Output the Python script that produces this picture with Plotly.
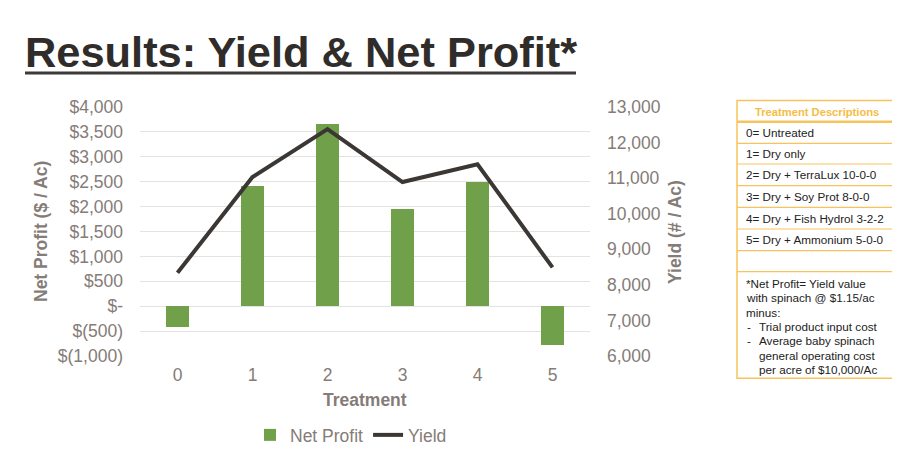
import plotly.graph_objects as go

# data
treatments = ["0", "1", "2", "3", "4", "5"]
net_profit = [-420, 2420, 3650, 1950, 2490, -770]
yield_ac = [8340, 11030, 12380, 10890, 11390, 8490]

profit_ticks = [4000, 3500, 3000, 2500, 2000, 1500, 1000, 500, 0, -500, -1000]
profit_labels = ["$4,000", "$3,500", "$3,000", "$2,500", "$2,000", "$1,500",
                 "$1,000", "$500", "$-", "$(500)", "$(1,000)"]

desc_header = "Treatment Descriptions"
desc_rows = ["0= Untreated", "1= Dry only", "2= Dry + TerraLux 10-0-0",
             "3= Dry + Soy Prot 8-0-0", "4= Dry + Fish Hydrol 3-2-2",
             "5= Dry + Ammonium 5-0-0"]
note_lines = ["*Net Profit= Yield value", "with spinach @ $1.15/ac", "minus:"]
note_bullets = [["Trial product input cost"],
                ["Average baby spinach", "general operating cost",
                 "per acre of $10,000/Ac"]]

GREEN = "#70a04a"
DARK = "#3b3734"
GREY = "#857c77"
GOLD = "#f7c35c"
FONT = "Liberation Sans, Arial, sans-serif"

# the page body adds an 8px margin, so the figure is drawn 8px in
OFF = 8
W, H = 900 - OFF, 454 - OFF
# plot area in window pixels
L, R, T, B = 140, 590, 107, 356


def px(x):
    return (x - L) / (R - L)


def py(y):
    return (B - y) / (B - T)


def note(text, x, y, size=11.7, color="#222222", anchor="left", bold=False, angle=0):
    if bold:
        text = "<b>" + text + "</b>"
    return dict(text=text, x=px(x), y=py(y), xref="paper", yref="paper",
                xanchor=anchor, yanchor="middle", showarrow=False, textangle=angle,
                font=dict(family=FONT, size=size, color=color))


fig = go.Figure()
fig.add_trace(go.Bar(x=treatments, y=net_profit, name="Net Profit",
                     marker=dict(color=GREEN, line=dict(width=0)),
                     width=0.31, yaxis="y"))
fig.add_trace(go.Scatter(x=treatments, y=yield_ac, name="Yield", mode="lines",
                         line=dict(color=DARK, width=4), yaxis="y2"))

shapes = []
annotations = []

# title + underline
annotations.append(note("Results: Yield &amp; Net Profit*", 23, 52, size=43.4,
                        color="#302c2a", bold=True))
shapes.append(dict(type="line", xref="paper", yref="paper", x0=px(25), x1=px(576),
                   y0=py(73), y1=py(73), line=dict(color="#3d3a38", width=3)))

# axis titles
annotations.append(note("Net Profit ($ / Ac)", 41, 232, size=17.5, color=GREY,
                        anchor="center", bold=True, angle=-90))
annotations.append(note("Yield (# / Ac)", 675, 232, size=17.5, color=GREY,
                        anchor="center", bold=True, angle=-90))
annotations.append(note("Treatment", 365, 400, size=17.5, color=GREY,
                        anchor="center", bold=True))

# description table
bx0, bx1 = 737, 896.5
row_lines = [100.5, 121.7, 143.3, 164, 185.7, 207.3, 229, 250.7, 271.7, 378.3]
shapes.append(dict(type="rect", xref="paper", yref="paper", x0=px(bx0), x1=px(bx1),
                   y0=py(378.3), y1=py(100.5), line=dict(color=GOLD, width=1.5)))
for i, ly in enumerate(row_lines[1:-1]):
    shapes.append(dict(type="line", xref="paper", yref="paper", x0=px(bx0), x1=px(bx1),
                       y0=py(ly), y1=py(ly),
                       line=dict(color=GOLD, width=2.5 if i == 0 else 1.2)))
annotations.append(note(desc_header, 817, 111.5, size=11.2, color="#f5bd45",
                        anchor="center", bold=True))
for i, row in enumerate(desc_rows):
    yc = (row_lines[i + 1] + row_lines[i + 2]) / 2
    annotations.append(note(row, 744, yc))
ny = 283.5
for line in note_lines:
    annotations.append(note(line, 744, ny))
    ny += 14.3
for bullet in note_bullets:
    annotations.append(note("-", 745, ny))
    for line in bullet:
        annotations.append(note(line, 757, ny))
        ny += 14.3

fig.update_layout(
    width=W, height=H,
    margin=dict(l=L - OFF, r=W - (R - OFF), t=T - OFF, b=H - (B - OFF), pad=0),
    paper_bgcolor="white", plot_bgcolor="white",
    font=dict(family=FONT, size=17.5, color=GREY),
    xaxis=dict(type="category", showgrid=False, zeroline=False, showline=False,
               ticks="", tickfont=dict(size=17.5, color=GREY), ticklabelstandoff=6),
    yaxis=dict(range=[-1000, 4000], tickvals=profit_ticks, ticktext=profit_labels,
               showgrid=True, gridcolor="#e3e3e3", gridwidth=1, zeroline=False,
               showline=False, ticks="", ticklabelstandoff=16,
               tickfont=dict(size=17.5, color=GREY)),
    yaxis2=dict(range=[6000, 13000], dtick=1000, tickformat=",d", overlaying="y",
                side="right", showgrid=False, zeroline=False, showline=False, ticks="",
                ticklabelstandoff=16, tickfont=dict(size=17.5, color=GREY)),
    legend=dict(orientation="h", xref="container", yref="container",
                x=(351 - OFF) / W, y=1 - (435 - OFF) / H, xanchor="center",
                yanchor="middle", font=dict(size=17.5, color=GREY), itemwidth=30,
                tracegroupgap=0),
    showlegend=True,
    shapes=shapes,
    annotations=annotations,
    bargap=0,
)

fig.write_html("out.html")
